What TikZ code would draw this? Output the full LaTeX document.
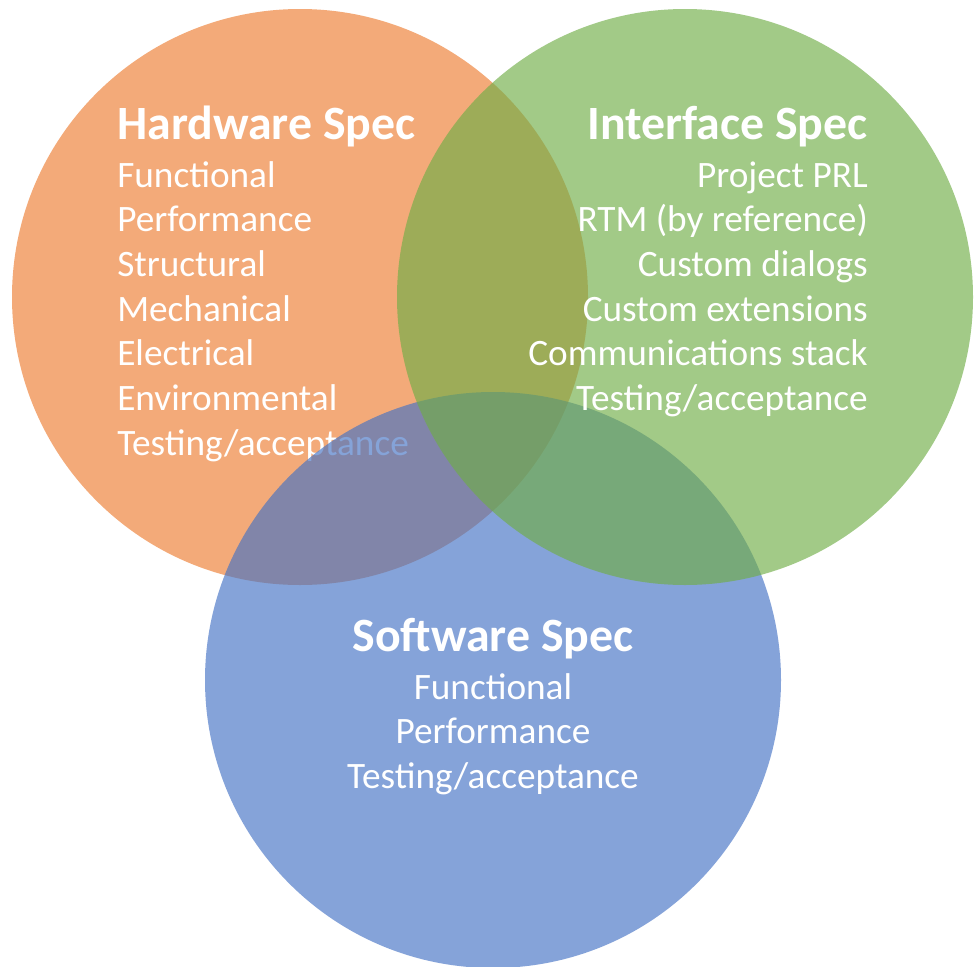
\documentclass[tikz,border=0pt]{standalone}
\usepackage{fontspec}
\setmainfont{Carlito}
\usepackage{xcolor}
\usetikzlibrary{positioning}
\definecolor{hworange}{HTML}{ED7D31}
\definecolor{ifgreen}{HTML}{70AD47}
\definecolor{swblue}{HTML}{4472C4}
\tikzset{
    specdisc/.style={fill=#1, fill opacity=0.65, draw=none},
    spectitle/.style={text=white, inner sep=0pt, font=\bfseries\fontsize{34}{40}\selectfont},
    specitem/.style={text=white, inner sep=0pt, font=\fontsize{26.5}{31.7}\selectfont}
}

\begin{document}
\begin{tikzpicture}[x=0.025cm, y=-0.025cm]
    \useasboundingbox (0, 0) rectangle (974, 967);
    \coordinate (hw) at (300, 297);
    \coordinate (if) at (685, 297);
    \coordinate (sw) at (493, 680);
    % hardware
    \fill[specdisc=hworange] (hw) circle (288);
    \node[spectitle, anchor=base west] (hwtitle) at (117, 139) {Hardware Spec};
    \foreach \t [count=\i] in {Functional, Performance, Structural, Mechanical, Electrical, Environmental, Testing/acceptance}
        \node[specitem, anchor=base west] (hw-\i) at (117, 187 + 44.7*\i - 44.7) {\t};
    % software
    \fill[specdisc=swblue] (sw) circle (288);
    \node[spectitle, anchor=base] (swtitle) at (493, 651) {Software Spec};
    \foreach \t [count=\i] in {Functional, Performance, Testing/acceptance}
        \node[specitem, anchor=base] (sw-\i) at (493, 699 + 44.7*\i - 44.7) {\t};
    % interface
    \fill[specdisc=ifgreen] (if) circle (288);
    \node[spectitle, anchor=base east] (iftitle) at (868, 139) {Interface Spec};
    \foreach \t [count=\i] in {Project PRL, RTM (by reference), Custom dialogs, Custom extensions, Communications stack, Testing/acceptance}
        \node[specitem, anchor=base east] (if-\i) at (868, 187 + 44.7*\i - 44.7) {\t};
\end{tikzpicture}
\end{document}
